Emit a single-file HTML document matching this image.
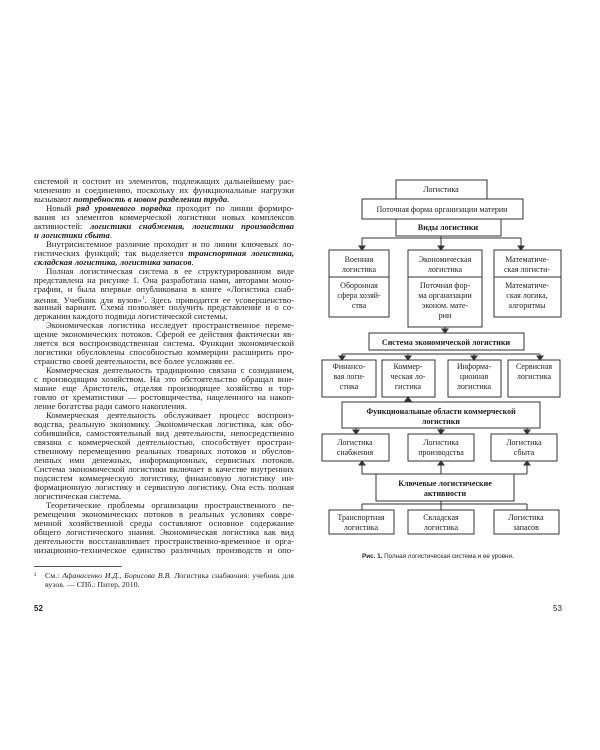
<!DOCTYPE html>
<html><head><meta charset="utf-8"><style>
body{margin:0;width:600px;height:750px;background:#fff;position:relative;overflow:hidden;}
.l{position:absolute;left:34px;width:260px;font-family:"Liberation Serif","DejaVu Serif",serif;font-size:8.7px;line-height:9px;color:#222;text-align:justify;text-align-last:justify;white-space:nowrap;}
.l.e{text-align-last:left;}
.i{text-indent:12px;}
b{font-style:italic;font-weight:bold;}
svg text{font-family:"Liberation Serif",serif;font-size:8px;fill:#222;text-anchor:middle;}
</style></head><body>
<div style="position:absolute;left:0;top:0;width:600px;height:750px">
<div class="l" style="top:177px">системой и состоит из элементов, подлежащих дальнейшему рас-</div>
<div class="l" style="top:186px">членению и соединению, поскольку их функциональные нагрузки</div>
<div class="l e" style="top:195px">вызывают <b>потребность в новом разделении труда</b>.</div>
<div class="l i" style="top:204px">Новый <b>ряд уровневого порядка</b> проходит по линии формиро-</div>
<div class="l" style="top:213px">вания из элементов коммерческой логистики новых комплексов</div>
<div class="l" style="top:222px">активностей: <b>логистики снабжения, логистики производства</b></div>
<div class="l e" style="top:231px"><b>и логистики сбыта</b>.</div>
<div class="l i" style="top:240px">Внутрисистемное различие проходит и по линии ключевых ло-</div>
<div class="l" style="top:249px">гистических функций; так выделяется <b>транспортная логистика,</b></div>
<div class="l e" style="top:258px"><b>складская логистика, логистика запасов</b>.</div>
<div class="l i" style="top:267px">Полная логистическая система в ее структурированном виде</div>
<div class="l" style="top:276px">представлена на рисунке 1. Она разработана нами, авторами моно-</div>
<div class="l" style="top:285px">графии, и была впервые опубликована в книге «Логистика снаб-</div>
<div class="l" style="top:294px">жения. Учебник для вузов»<sup style="font-size:5px">1</sup>. Здесь приводится ее усовершенство-</div>
<div class="l" style="top:303px">ванный вариант. Схема позволяет получить представление и о со-</div>
<div class="l e" style="top:312px">держании каждого подвида логистической системы.</div>
<div class="l i" style="top:321px">Экономическая логистика исследует пространственное переме-</div>
<div class="l" style="top:330px">щение экономических потоков. Сферой ее действия фактически яв-</div>
<div class="l" style="top:339px">ляется вся воспроизводственная система. Функции экономической</div>
<div class="l" style="top:348px">логистики обусловлены способностью коммерции расширить про-</div>
<div class="l e" style="top:357px">странство своей деятельности, все более усложняя ее.</div>
<div class="l i" style="top:366px">Коммерческая деятельность традиционно связана с созиданием,</div>
<div class="l" style="top:375px">с производящим хозяйством. На это обстоятельство обращал вни-</div>
<div class="l" style="top:384px">мание еще Аристотель, отделяя производящее хозяйство и тор-</div>
<div class="l" style="top:393px">говлю от хрематистики — ростовщичества, нацеленного на накоп-</div>
<div class="l e" style="top:402px">ление богатства ради самого накопления.</div>
<div class="l i" style="top:411px">Коммерческая деятельность обслуживает процесс воспроиз-</div>
<div class="l" style="top:420px">водства, реальную экономику. Экономическая логистика, как обо-</div>
<div class="l" style="top:429px">собившийся, самостоятельный вид деятельности, непосредственно</div>
<div class="l" style="top:438px">связана с коммерческой деятельностью, способствует простран-</div>
<div class="l" style="top:447px">ственному перемещению реальных товарных потоков и обуслов-</div>
<div class="l" style="top:456px">ленных ими денежных, информационных, сервисных потоков.</div>
<div class="l" style="top:465px">Система экономической логистики включает в качестве внутренних</div>
<div class="l" style="top:474px">подсистем коммерческую логистику, финансовую логистику ин-</div>
<div class="l" style="top:483px">формационную логистику и сервисную логистику. Она есть полная</div>
<div class="l e" style="top:492px">логистическая система.</div>
<div class="l i" style="top:501px">Теоретические проблемы организации пространственного пе-</div>
<div class="l" style="top:510px">ремещения экономических потоков в реальных условиях совре-</div>
<div class="l" style="top:519px">менной хозяйственной среды составляют основное содержание</div>
<div class="l" style="top:528px">общего логистического знания. Экономическая логистика как вид</div>
<div class="l" style="top:537px">деятельности восстанавливает пространственно-временное и орга-</div>
<div class="l" style="top:546px">низационно-техническое единство различных производств и опо-</div>
<div style="position:absolute;left:34px;top:566px;width:88px;border-top:1px solid #555"></div>
<div class="l" style="top:571px;font-size:7.8px;line-height:9px;text-indent:0">¹&nbsp;&nbsp;&nbsp;См.: <i>Афанасенко И.Д., Борисова В.В.</i> Логистика снабжения: учебник для</div>
<div class="l e" style="top:580px;font-size:7.8px;padding-left:11px;width:249px">вузов. — СПб.: Питер, 2010.</div>
<div style="position:absolute;left:34px;top:604px;font:bold 8px 'Liberation Sans',sans-serif;color:#222">52</div>
<div style="position:absolute;left:553px;top:604px;font:8px 'Liberation Sans',sans-serif;color:#222">53</div>
<div style="position:absolute;left:362px;top:553px;font:6.3px 'Liberation Sans',sans-serif;color:#222;white-space:nowrap"><b style="font-style:normal">Рис. 1.</b> Полная логистическая система и ее уровни.</div>
</div>
<svg width="600" height="750" style="position:absolute;left:0;top:0" stroke="#333" stroke-width="1" fill="none">
<rect x="396" y="180" width="91" height="19"/>
<rect x="362" y="199" width="161" height="20"/>
<rect x="396" y="219" width="105" height="17"/>
<path d="M362,238 H521 M362,238 V250 M441,236 V250 M521,238 V250"/>
<path d="M359,246 l3,4 l3,-4z M438,246 l3,4 l3,-4z M518,246 l3,4 l3,-4z" fill="#333"/>
<rect x="329" y="250" width="60" height="67"/><path d="M329,277 H389"/>
<rect x="408" y="250" width="74" height="77"/><path d="M408,277 H482"/>
<rect x="494" y="250" width="67" height="67"/><path d="M494,277 H561"/>
<path d="M445,327 V333"/><path d="M442,329 l3,4 l3,-4z" fill="#333"/>
<rect x="369" y="333" width="155" height="17"/>
<path d="M342,354 H540 M342,354 V360 M408,354 V360 M474,354 V360 M540,354 V360"/>
<path d="M339,356 l3,4 l3,-4z M405,356 l3,4 l3,-4z M471,356 l3,4 l3,-4z M537,356 l3,4 l3,-4z" fill="#333"/>
<rect x="322" y="360" width="54" height="37"/>
<rect x="382" y="360" width="53" height="37"/>
<rect x="448" y="360" width="53" height="37"/>
<rect x="508" y="360" width="52" height="37"/>
<path d="M408,397 V402"/><path d="M405,401 l3,-4 l3,4z" fill="#333"/>
<rect x="342" y="402" width="198" height="26"/>
<path d="M356,428 V434 M441,428 V434 M527,428 V434"/>
<path d="M353,430 l3,4 l3,-4z M438,430 l3,4 l3,-4z M524,430 l3,4 l3,-4z" fill="#333"/>
<rect x="322" y="434" width="67" height="27"/>
<rect x="408" y="434" width="66" height="27"/>
<rect x="491" y="434" width="66" height="27"/>
<path d="M362,474 H527 M362,474 V461 M441,474 V461 M527,474 V461"/>
<path d="M359,465 l3,-4 l3,4z M438,465 l3,-4 l3,4z M524,465 l3,-4 l3,4z" fill="#333"/>
<rect x="376" y="474" width="138" height="27"/>
<path d="M362,504 H527 M362,504 V510 M441,501 V510 M527,504 V510"/>
<rect x="329" y="510" width="65" height="24"/>
<rect x="408" y="510" width="66" height="24"/>
<rect x="494" y="510" width="65" height="24"/>
<g stroke="none">
<text x="441" y="192">Логистика</text>
<text x="442" y="212">Поточная форма организации материи</text>
<text x="448" y="230" style="font-weight:bold">Виды логистики</text>
<text x="359" y="262">Военная</text><text x="359" y="272">логистика</text>
<text x="359" y="288">Оборонная</text><text x="359" y="298">сфера хозяй-</text><text x="359" y="308">ства</text>
<text x="445" y="262">Экономическая</text><text x="445" y="272">логистика</text>
<text x="445" y="288">Поточная фор-</text><text x="445" y="298">ма организации</text><text x="445" y="308">эконом. мате-</text><text x="445" y="318">рии</text>
<text x="527" y="262">Математиче-</text><text x="527" y="272">ская логисти-</text>
<text x="527" y="288">Математиче-</text><text x="527" y="298">ская логика,</text><text x="527" y="308">алгоритмы</text>
<text x="446" y="345" style="font-weight:bold">Система экономической логистики</text>
<text x="349" y="369">Финансо-</text><text x="349" y="379">вая логи-</text><text x="349" y="389">стика</text>
<text x="408" y="369">Коммер-</text><text x="408" y="379">ческая ло-</text><text x="408" y="389">гистика</text>
<text x="474" y="369">Информа-</text><text x="474" y="379">ционная</text><text x="474" y="389">логистика</text>
<text x="534" y="369">Сервисная</text><text x="534" y="379">логистика</text>
<text x="441" y="414" style="font-weight:bold">Функциональные области коммерческой</text>
<text x="441" y="424" style="font-weight:bold">логистики</text>
<text x="355" y="445">Логистика</text><text x="355" y="455">снабжения</text>
<text x="441" y="445">Логистика</text><text x="441" y="455">производства</text>
<text x="524" y="445">Логистика</text><text x="524" y="455">сбыта</text>
<text x="445" y="486" style="font-weight:bold">Ключевые логистические</text>
<text x="445" y="496" style="font-weight:bold">активности</text>
<text x="361" y="520">Транспортная</text><text x="361" y="530">логистика</text>
<text x="441" y="520">Складская</text><text x="441" y="530">логистика</text>
<text x="526" y="520">Логистика</text><text x="526" y="530">запасов</text>
</g>
</svg>
</body></html>
